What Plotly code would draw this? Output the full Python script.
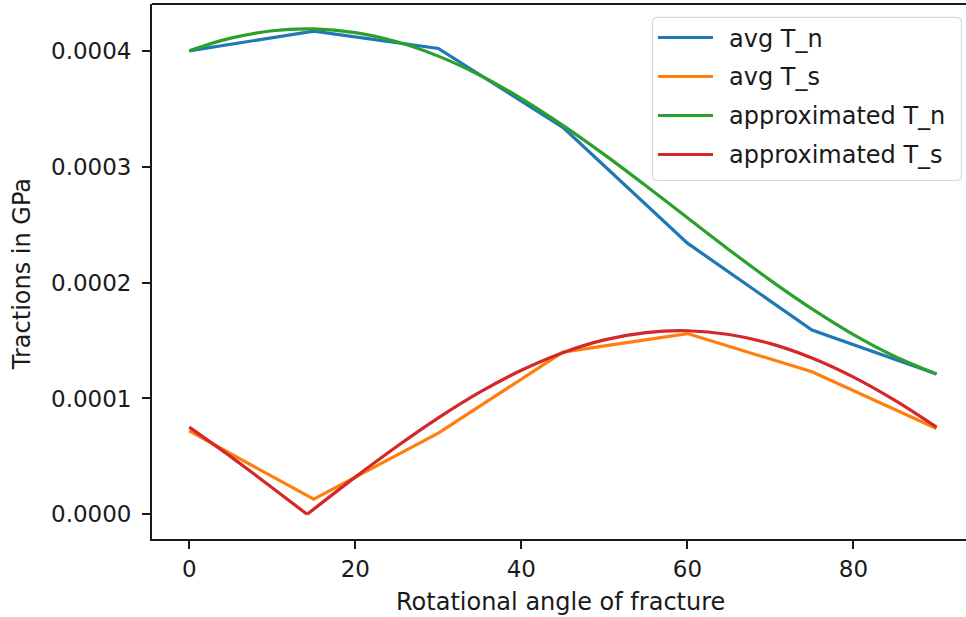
import plotly.graph_objects as go

# Averaged tractions at the sampled fracture angles (degrees)
angles = [0, 15, 30, 45, 60, 75, 90]
avg_tn = [4.00e-4, 4.17e-4, 4.02e-4, 3.34e-4, 2.34e-4, 1.59e-4, 1.21e-4]
avg_ts = [0.72e-4, 0.13e-4, 0.70e-4, 1.40e-4, 1.56e-4, 1.23e-4, 0.74e-4]

# Approximated normal traction, sampled finely
fit_angles_n = [0, 5, 10, 15, 20, 25, 30, 35, 40, 45, 50, 55, 60, 65, 70, 75, 80, 85, 90]
fit_tn = [4.000e-4, 4.109e-4, 4.173e-4, 4.189e-4, 4.157e-4, 4.078e-4, 3.954e-4,
          3.789e-4, 3.588e-4, 3.357e-4, 3.104e-4, 2.835e-4, 2.559e-4, 2.284e-4,
          2.019e-4, 1.773e-4, 1.551e-4, 1.362e-4, 1.210e-4]

# Approximated shear traction (magnitude), with its zero crossing near 14 degrees
fit_angles_s = [0, 5, 10, 14.2, 20, 25, 30, 35, 40, 45, 50, 55, 60, 65, 70, 75, 80, 85, 90]
fit_ts = [0.752e-4, 0.498e-4, 0.230e-4, 0.0, 0.321e-4, 0.585e-4, 0.832e-4, 1.054e-4,
          1.243e-4, 1.395e-4, 1.505e-4, 1.568e-4, 1.584e-4, 1.552e-4, 1.473e-4,
          1.349e-4, 1.184e-4, 0.983e-4, 0.752e-4]

series_names = ["avg T_n", "avg T_s", "approximated T_n", "approximated T_s"]
x_ticks = [0, 20, 40, 60, 80]
y_ticks = [0.0, 1e-4, 2e-4, 3e-4, 4e-4]

BLUE, ORANGE, GREEN, RED = "#1f77b4", "#ff7f0e", "#2ca02c", "#d62728"
COLORS = [BLUE, ORANGE, GREEN, RED]
FONT = "DejaVu Sans"
FS = 24
TICK_FS = 23
INK = "#1a1a1a"
LW = 3.2

W, H = 966, 617
ML, MR, MT, MB = 152, 0, 4, 78
PW, PH = W - ML - MR, H - MT - MB


def px_x(px):
    """pixel column -> paper x"""
    return (px - ML) / PW


def px_y(py):
    """pixel row -> paper y"""
    return (H - MB - py) / PH


fig = go.Figure()
fig.add_trace(go.Scatter(x=angles, y=avg_tn, mode="lines", name=series_names[0],
                         line=dict(color=BLUE, width=LW)))
fig.add_trace(go.Scatter(x=angles, y=avg_ts, mode="lines", name=series_names[1],
                         line=dict(color=ORANGE, width=LW)))
fig.add_trace(go.Scatter(x=fit_angles_n, y=fit_tn, mode="lines", name=series_names[2],
                         line=dict(color=GREEN, width=LW, shape="spline", smoothing=1.0)))

# the shear curve has a kink at its zero, so draw it as two smooth pieces
k = fit_ts.index(0.0)
fig.add_trace(go.Scatter(x=fit_angles_s[:k + 1], y=fit_ts[:k + 1], mode="lines",
                         name=series_names[3],
                         line=dict(color=RED, width=LW, shape="spline", smoothing=0.6)))
fig.add_trace(go.Scatter(x=fit_angles_s[k:], y=fit_ts[k:], mode="lines",
                         name=series_names[3],
                         line=dict(color=RED, width=LW, shape="spline", smoothing=1.0)))

axis_common = dict(
    showgrid=False, zeroline=False, showline=True, linecolor=INK, linewidth=1.8,
    ticks="outside", ticklen=8, tickwidth=1.8, tickcolor=INK,
    tickfont=dict(family=FONT, size=TICK_FS, color=INK),
)

fig.update_xaxes(range=[-4.48, 93.55], tickvals=x_ticks, **axis_common)
fig.update_yaxes(range=[-0.0000213, 0.0004404], tickvals=y_ticks, tickformat=".4f",
                 ticklabelstandoff=6, **axis_common)

# legend frame with slightly rounded corners
bx0, bx1, by0, by1, r = 652.5, 961.5, 17.3, 180.5, 5
frame = (f"M {px_x(bx0 + r)},{px_y(by0)} L {px_x(bx1 - r)},{px_y(by0)} "
         f"Q {px_x(bx1)},{px_y(by0)} {px_x(bx1)},{px_y(by0 + r)} "
         f"L {px_x(bx1)},{px_y(by1 - r)} "
         f"Q {px_x(bx1)},{px_y(by1)} {px_x(bx1 - r)},{px_y(by1)} "
         f"L {px_x(bx0 + r)},{px_y(by1)} "
         f"Q {px_x(bx0)},{px_y(by1)} {px_x(bx0)},{px_y(by1 - r)} "
         f"L {px_x(bx0)},{px_y(by0 + r)} "
         f"Q {px_x(bx0)},{px_y(by0)} {px_x(bx0 + r)},{px_y(by0)} Z")

shapes = [
    dict(type="line", xref="paper", yref="paper", x0=0, x1=1, y0=1, y1=1,
         line=dict(color=INK, width=1.8)),
    dict(type="path", xref="paper", yref="paper", path=frame,
         fillcolor="rgba(255,255,255,0.8)", line=dict(color="#d9d9d9", width=1.2)),
]
annotations = [
    dict(text="Rotational angle of fracture", xref="paper", yref="paper",
         x=0.502, y=0.0, yshift=-63, xanchor="center", yanchor="middle",
         showarrow=False, font=dict(family=FONT, size=FS, color=INK)),
    dict(text="Tractions in GPa", xref="paper", yref="paper",
         x=0, xshift=-130, y=0.495, textangle=-90, xanchor="center",
         yanchor="middle", showarrow=False,
         font=dict(family=FONT, size=FS, color=INK)),
]

row_y = [37.5, 76.5, 115.5, 154.5]
for name, color, ry in zip(series_names, COLORS, row_y):
    shapes.append(dict(type="line", xref="paper", yref="paper",
                       x0=px_x(658), x1=px_x(713), y0=px_y(ry), y1=px_y(ry),
                       line=dict(color=color, width=LW)))
    annotations.append(dict(text=name, xref="paper", yref="paper",
                            x=px_x(727), y=px_y(ry + 1), xanchor="left", yanchor="middle",
                            showarrow=False, font=dict(family=FONT, size=FS, color=INK)))

fig.update_layout(
    width=W, height=H,
    margin=dict(l=ML, r=MR, t=MT, b=MB),
    paper_bgcolor="white", plot_bgcolor="white",
    font=dict(family=FONT, size=FS, color=INK),
    showlegend=False,
    shapes=shapes,
    annotations=annotations,
)

fig.write_html("out.html")
